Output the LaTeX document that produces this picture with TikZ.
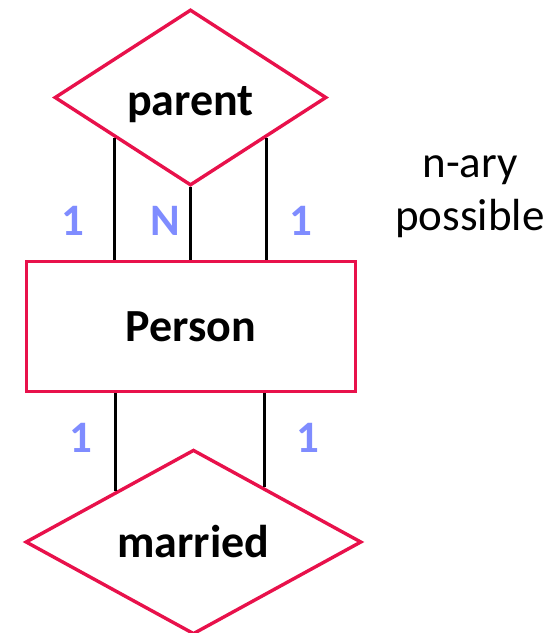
\documentclass[tikz,border=0pt]{standalone}
\usepackage{fontspec}
\setmainfont{Carlito}
\usetikzlibrary{shapes.geometric,calc}
\definecolor{erred}{RGB}{232,17,75}
\definecolor{cardblue}{RGB}{127,140,255}

\begin{document}
\begin{tikzpicture}[x=1pt,y=-1pt,every node/.style={inner sep=0pt},
    entity/.style={draw=erred,line width=3.4pt,minimum width=329pt,minimum height=130pt,font=\fontsize{46}{55}\selectfont\bfseries},
    relation/.style={draw=erred,line width=3.4pt,diamond,font=\fontsize{46}{55}\selectfont\bfseries},
    card/.style={text=cardblue,font=\fontsize{45}{54}\selectfont\bfseries,anchor=base},
    link/.style={line width=3.4pt}]
      \useasboundingbox (0,0) rectangle (555,633);
      \node[entity](person) at (191,326.5){Person};
      \node[relation,minimum width=272pt,minimum height=176pt,text height=42pt,text depth=7pt](parent) at (190.5,97.5){parent};
      \node[relation,minimum width=336pt,minimum height=174pt](married) at (193.5,542){married};
      \node[font=\fontsize{45}{53}\selectfont,align=center,anchor=base](nary) at (470,230){n-ary\\possible};
      % Links
      \coordinate (p1) at ($(parent.south)!0.55!(parent.west)$);
      \coordinate (p3) at ($(parent.south)!0.55!(parent.east)$);
      \coordinate (m1) at ($(married.north)!0.46!(married.west)$);
      \coordinate (m2) at ($(married.north)!0.42!(married.east)$);
      \draw[link] (p1) to (p1 |- person.north);
      \draw[link] (parent.south) to (parent.south |- person.north);
      \draw[link] (p3) to (p3 |- person.north);
      \draw[link] (m1 |- person.south) to (m1);
      \draw[link] (m2 |- person.south) to (m2);
      % Cardinalities
      \node[card](c1) at (73,235){1};
      \node[card](cn) at (165,235){N};
      \node[card](c2) at (301,235){1};
      \node[card](c3) at (81,452){1};
      \node[card](c4) at (308,452){1};
    \end{tikzpicture}
\end{document}
